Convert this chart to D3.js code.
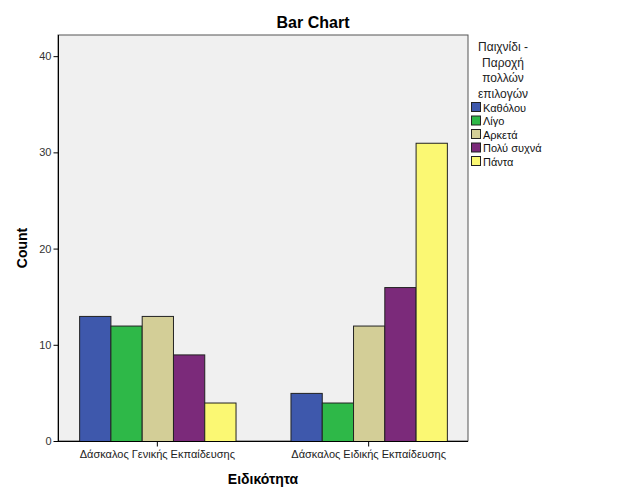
<!DOCTYPE html>
<html><head><meta charset="utf-8">
<script src="https://cdn.jsdelivr.net/npm/d3@7"></script>
<style>body{margin:0;background:#fff;} text{font-family:Arial,"Liberation Sans",sans-serif;}</style>
</head><body>
<svg id="c" width="626" height="501"></svg>
<script>
const categories = ["Δάσκαλος Γενικής Εκπαίδευσης", "Δάσκαλος Ειδικής Εκπαίδευσης"];
const seriesNames = ["Καθόλου", "Λίγο", "Αρκετά", "Πολύ συχνά", "Πάντα"];
const seriesColors = ["#3e58ac", "#2eb848", "#d3ce97", "#7b2a7a", "#fbf873"];
const valuesKatholou = [13, 5];
const valuesLigo = [12, 4];
const valuesArketa = [13, 12];
const valuesPoly = [9, 16];
const valuesPanta = [4, 31];
const yTicks = [0, 10, 20, 30, 40];
const series = [valuesKatholou, valuesLigo, valuesArketa, valuesPoly, valuesPanta];

const svg = d3.select("#c");
const L = 58, R = 468, T = 35, B = 441;
const x = d3.scaleBand().domain(categories).range([L, R]).paddingInner(0.26).paddingOuter(0.1);
const xs = d3.scaleBand().domain(seriesNames).range([0, x.bandwidth()]);
const y = d3.scaleLinear().domain([0, 42.2]).range([B, T]);

svg.append("rect").attr("x", L).attr("y", T).attr("width", R - L).attr("height", B - T)
  .attr("fill", "#f0f0f0").attr("stroke", "#555").attr("stroke-width", 1);

categories.forEach((c, ci) => {
  series.forEach((vals, si) => {
    svg.append("rect")
      .attr("x", x(c) + xs(seriesNames[si]) + 0.5)
      .attr("y", y(vals[ci]) + 0.5)
      .attr("width", xs.bandwidth())
      .attr("height", y(0) - y(vals[ci]))
      .attr("fill", seriesColors[si])
      .attr("stroke", "#222").attr("stroke-width", 1);
  });
});

const yAxis = svg.append("g").attr("transform", `translate(${L + 0.5},0)`)
  .call(d3.axisLeft(y).tickValues(yTicks).tickSize(5).tickSizeOuter(0).tickPadding(2));
yAxis.select(".domain").attr("d", `M0,${T}V${B + 0.5}`).attr("stroke", "#000");
yAxis.selectAll("text").attr("font-size", 11).attr("fill", "#333");

const xAxis = svg.append("g").attr("transform", `translate(0,${B + 0.5})`)
  .call(d3.axisBottom(x).tickSize(5).tickSizeOuter(0).tickPadding(4));
xAxis.select(".domain").attr("d", `M${L},0H${R}`).attr("stroke", "#000");
xAxis.selectAll("text").attr("font-size", 11).attr("fill", "#222");

svg.append("text").attr("x", 313).attr("y", 28).attr("text-anchor", "middle")
  .attr("font-size", 16).attr("font-weight", "bold").text("Bar Chart");
svg.append("text").attr("x", 263).attr("y", 484).attr("text-anchor", "middle")
  .attr("font-size", 14).attr("font-weight", "bold").text("Ειδικότητα");
svg.append("text").attr("transform", "translate(27,248) rotate(-90)").attr("text-anchor", "middle")
  .attr("font-size", 14).attr("font-weight", "bold").text("Count");

const titleLines = ["Παιχνίδι -", "Παροχή", "πολλών", "επιλογών"];
titleLines.forEach((t, i) => {
  svg.append("text").attr("x", 503).attr("y", 51 + i * 15.5).attr("text-anchor", "middle")
    .attr("font-size", 12).attr("fill", "#222").text(t);
});
seriesNames.forEach((n, i) => {
  const yy = 102 + i * 13.5;
  svg.append("rect").attr("x", 471.5).attr("y", yy + 0.5).attr("width", 9).attr("height", 9)
    .attr("fill", seriesColors[i]).attr("stroke", "#222");
  svg.append("text").attr("x", 483).attr("y", yy + 9.5).attr("font-size", 11).attr("fill", "#111").text(n);
});
</script>
</body></html>
